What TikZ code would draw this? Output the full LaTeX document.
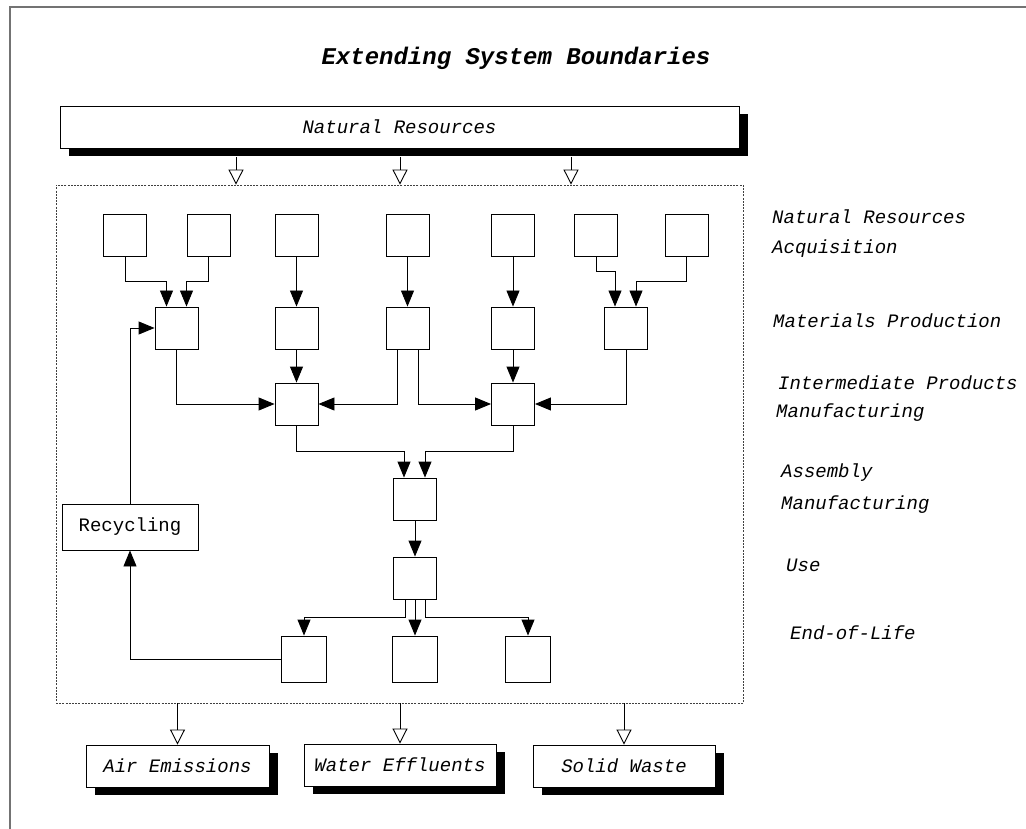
\documentclass[tikz,border=0pt]{standalone}
\usepackage{fontspec}
\newfontfamily\mono{Liberation Mono}
\usetikzlibrary{arrows.meta,shadows}
\begin{document}
\begin{tikzpicture}[x=1pt,y=-1pt,
  box/.style={draw,line width=0.9pt,minimum width=43pt,minimum height=42pt,inner sep=0pt,fill=white},
  bigbox/.style={box,minimum height=46pt,minimum width=45pt},
  sbox/.style={draw,line width=0.9pt,fill=white,inner sep=0pt,minimum height=42pt,
     font=\mono\itshape\fontsize{19}{22}\selectfont,
     drop shadow={shadow xshift=9pt,shadow yshift=-8pt,fill=black,opacity=1}},
  arr/.style={line width=0.9pt,-{Triangle[length=16pt,width=13pt]}},
  oarr/.style={line width=0.9pt,-{Triangle[open,length=15pt,width=15pt,fill=white]}},
  lbl/.style={font=\mono\itshape\fontsize{19}{22}\selectfont,anchor=west,inner sep=0pt},
  sysbox/.style={draw=black!75,line width=0.8pt,dash pattern=on 2pt off 1.2pt,inner sep=0pt}
]
\useasboundingbox (0,0) rectangle (1026,829);
% frame
\draw[black!55,line width=1.5pt] (10,829) -- (10,7) -- (1026,7);
% title
\node[font=\mono\bfseries\itshape\fontsize{24}{28}\selectfont] (title) at (516,58) {Extending System Boundaries};
% natural resources
\node[sbox,minimum width=679pt] (nr) at (399.5,127) {Natural Resources};
% system boundary
\node[sysbox,minimum width=687pt,minimum height=518pt] (sys) at (399.5,444) {};
\coordinate (c1) at (236,0);
\coordinate (c2) at (400,0);
\coordinate (c3) at (571,0);
\draw[oarr] ([yshift=-9pt]nr.south -| c1) -- (sys.north -| c1);
\draw[oarr] ([yshift=-9pt]nr.south -| c2) -- (sys.north -| c2);
\draw[oarr] ([yshift=-9pt]nr.south -| c3) -- (sys.north -| c3);
% row 1
\node[box] (r1a) at (125,235) {};
\node[box] (r1b) at (208.5,235) {};
\node[box] (r1c) at (296.5,235) {};
\node[box] (r1d) at (407.5,235) {};
\node[box] (r1e) at (513,235) {};
\node[box] (r1f) at (596,235) {};
\node[box] (r1g) at (686.5,235) {};
% row 2
\node[box] (r2a) at (176.5,328) {};
\node[box] (r2b) at (296.5,328) {};
\node[box] (r2c) at (407.5,328) {};
\node[box] (r2d) at (513,328) {};
\node[box] (r2e) at (626,328) {};
% row 3
\node[box] (r3a) at (296.5,404) {};
\node[box] (r3b) at (513,404) {};
% row 4, 5
\node[box] (r4) at (415,499) {};
\node[box] (r5) at (415,578) {};
% row 6
\node[bigbox] (r6a) at (304,659) {};
\node[bigbox] (r6b) at (415,659) {};
\node[bigbox] (r6c) at (528,659) {};
% recycling
\node[draw,line width=0.9pt,minimum width=136pt,minimum height=46pt,inner sep=0pt,
      font=\mono\fontsize{19}{22}\selectfont] (rec) at (130,527) {Recycling};
% connectors row1 -> row2
\draw[arr] (r1a.south) -- ++(0,25) -| ([xshift=-10pt]r2a.north);
\draw[arr] (r1b.south) -- ++(0,25) -| ([xshift=10pt]r2a.north);
\draw[arr] (r1c.south) -- (r2b.north);
\draw[arr] (r1d.south) -- (r2c.north);
\draw[arr] (r1e.south) -- (r2d.north);
\draw[arr] (r1f.south) -- ++(0,15) -| ([xshift=-11pt]r2e.north);
\draw[arr] (r1g.south) -- ++(0,25) -| ([xshift=10pt]r2e.north);
% row2 -> row3
\draw[arr] (r2a.south) |- (r3a.west);
\draw[arr] (r2b.south) -- (r3a.north);
\draw[arr] ([xshift=-10.5pt]r2c.south) |- (r3a.east);
\draw[arr] ([xshift=10.5pt]r2c.south) |- (r3b.west);
\draw[arr] (r2d.south) -- (r3b.north);
\draw[arr] (r2e.south) |- (r3b.east);
% row3 -> row4
\draw[arr] (r3a.south) -- ++(0,26) -| ([xshift=-11pt]r4.north);
\draw[arr] (r3b.south) -- ++(0,26) -| ([xshift=10pt]r4.north);
% row4 -> row5
\draw[arr] (r4.south) -- (r5.north);
% row5 -> row6
\draw[arr] ([xshift=-10pt]r5.south) -- ++(0,18) -| (r6a.north);
\draw[arr] (r5.south) -- (r6b.north);
\draw[arr] ([xshift=10pt]r5.south) -- ++(0,18) -| (r6c.north);
% recycling loop
\draw[arr] (r6a.west) -| (rec.south);
\draw[arr] (rec.north) |- (r2a.west);
% outputs
\node[sbox,minimum width=183pt] (air) at (177.5,766) {Air Emissions};
\node[sbox,minimum width=192pt] (water) at (400,765) {Water Effluents};
\node[sbox,minimum width=182pt] (solid) at (624,766) {Solid Waste};
\draw[oarr] (sys.south -| air.north) -- (air.north);
\draw[oarr] (sys.south -| water.north) -- (water.north);
\draw[oarr] (sys.south -| solid.north) -- (solid.north);
% stage labels
\node[lbl] (l1) at (772,217) {Natural Resources};
\node[lbl] (l2) at (772,249) {Acquisition};
\node[lbl] (l3) at (773,321) {Materials Production};
\node[lbl] (l4) at (778,383) {Intermediate Products};
\node[lbl] (l5) at (776,413) {Manufacturing};
\node[lbl] (l6) at (781,473) {Assembly};
\node[lbl] (l7) at (781,505) {Manufacturing};
\node[lbl] (l8) at (786,565) {Use};
\node[lbl] (l9) at (790,633) {End-of-Life};
\end{tikzpicture}
\end{document}
